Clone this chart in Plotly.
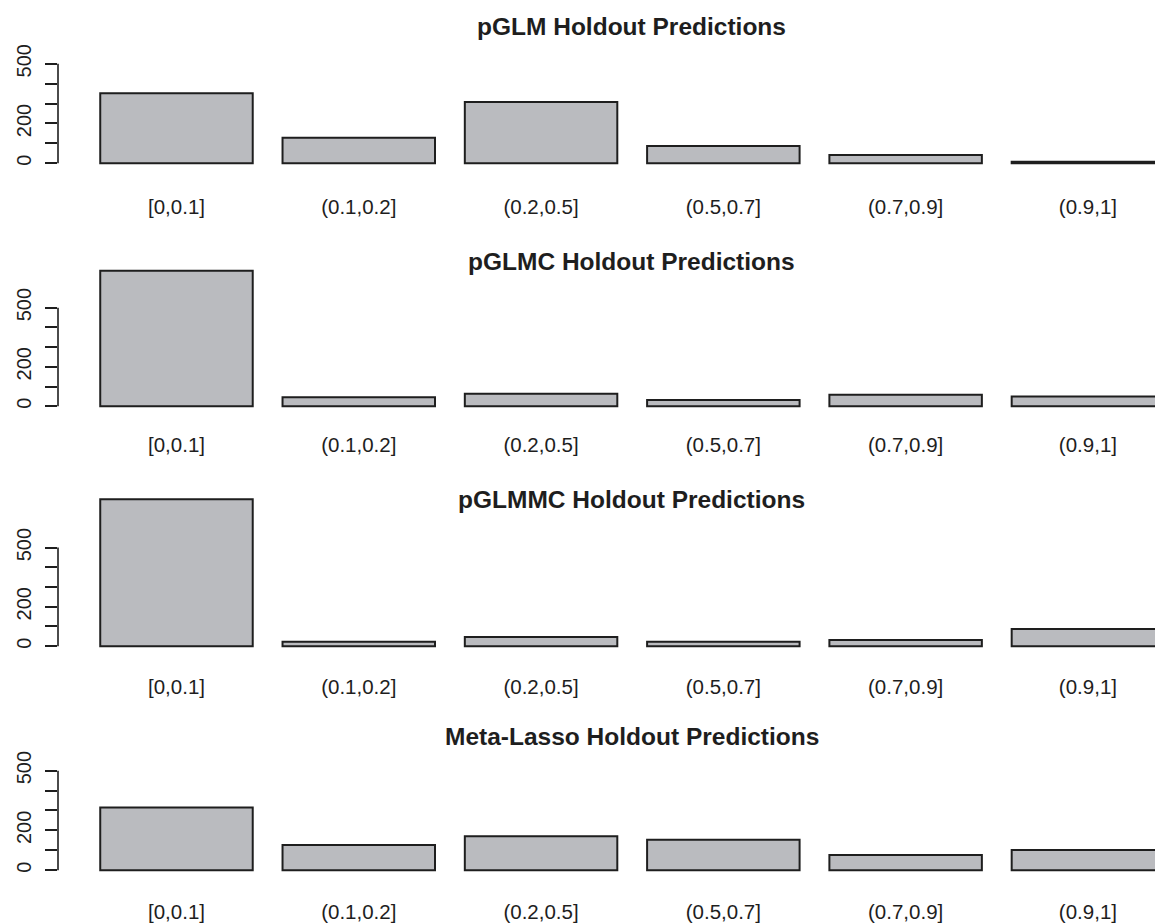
import plotly.graph_objects as go

# Probability bins used on the x axis
categories = ["[0,0.1]", "(0.1,0.2]", "(0.2,0.5]", "(0.5,0.7]", "(0.7,0.9]", "(0.9,1]"]

# Counts of holdout predictions falling in each bin, per model
pglm = [352, 128, 308, 87, 42, 8]
pglmc = [687, 45, 63, 32, 58, 50]
pglmmc = [745, 22, 46, 22, 32, 87]
meta_lasso = [315, 127, 170, 153, 77, 102]

titles = [
    "pGLM Holdout Predictions",
    "pGLMC Holdout Predictions",
    "pGLMMC Holdout Predictions",
    "Meta-Lasso Holdout Predictions",
]
series = [pglm, pglmc, pglmmc, meta_lasso]

y_tickvals = [0, 100, 200, 300, 400, 500]
y_ticktext = ["0", "", "200", "", "", "500"]

W, H = 1155, 923
FONT = "Liberation Sans, Arial, Helvetica, sans-serif"
INK = "#1e1e1e"
FILL = "#babbbf"

# Panel geometry in pixels: zero line, pixels per count, title centre, label offset
panels = [
    dict(base=164, scale=0.200, title_y=27, label_off=25),
    dict(base=408, scale=0.198, title_y=263, label_off=20),
    dict(base=649, scale=0.198, title_y=502, label_off=22),
    dict(base=874, scale=0.200, title_y=740, label_off=23),
]
Y_RANGE = [-20, 800]
X_LEFT = 58
X_RANGE = [-0.650, 5.368]

fig = go.Figure()
layout = dict(
    width=W, height=H,
    margin=dict(l=0, r=0, t=0, b=0),
    paper_bgcolor="white", plot_bgcolor="white",
    showlegend=False, bargap=0.1635,
    font=dict(family=FONT, color=INK),
)
shapes, annotations = [], []

for i, (vals, title, p) in enumerate(zip(series, titles, panels)):
    n = i + 1
    xa = "x" if n == 1 else f"x{n}"
    ya = "y" if n == 1 else f"y{n}"
    fig.add_trace(go.Bar(
        x=categories, y=vals, xaxis=xa, yaxis=ya,
        marker=dict(color=FILL, line=dict(color=INK, width=2)),
        hoverinfo="x+y",
    ))
    top_px = p["base"] - Y_RANGE[1] * p["scale"]
    bot_px = p["base"] - Y_RANGE[0] * p["scale"]
    dom_y = [1 - bot_px / H, 1 - top_px / H]
    layout["xaxis" if n == 1 else f"xaxis{n}"] = dict(
        domain=[X_LEFT / W, 1], anchor=ya, type="category",
        range=X_RANGE, showgrid=False, zeroline=False, showline=False,
        ticks="", tickfont=dict(size=20.5, family=FONT, color=INK),
        ticklabelstandoff=p["label_off"], fixedrange=True,
    )
    layout["yaxis" if n == 1 else f"yaxis{n}"] = dict(
        domain=dom_y, anchor=xa, range=Y_RANGE,
        showgrid=False, zeroline=False, showline=False,
        tickmode="array", tickvals=y_tickvals, ticktext=y_ticktext,
        ticks="outside", ticklen=12, tickwidth=1.6, tickcolor=INK,
        tickangle=-90, tickfont=dict(size=20, family=FONT, color=INK),
        ticklabelstandoff=6, fixedrange=True,
    )
    # y axis spine limited to the labelled range
    shapes.append(dict(
        type="line", xref=f"{xa} domain", yref=ya,
        x0=0, x1=0, y0=y_tickvals[0], y1=y_tickvals[-1],
        line=dict(color=INK, width=1.6),
    ))
    annotations.append(dict(
        text=title, xref="paper", yref="paper",
        x=631.5 / W, y=1 - p["title_y"] / H,
        xanchor="center", yanchor="middle", showarrow=False,
        font=dict(size=24.5, family=FONT, color=INK, weight="bold"),
    ))

layout["shapes"] = shapes
layout["annotations"] = annotations
fig.update_layout(**layout)
fig.write_html("out.html")
